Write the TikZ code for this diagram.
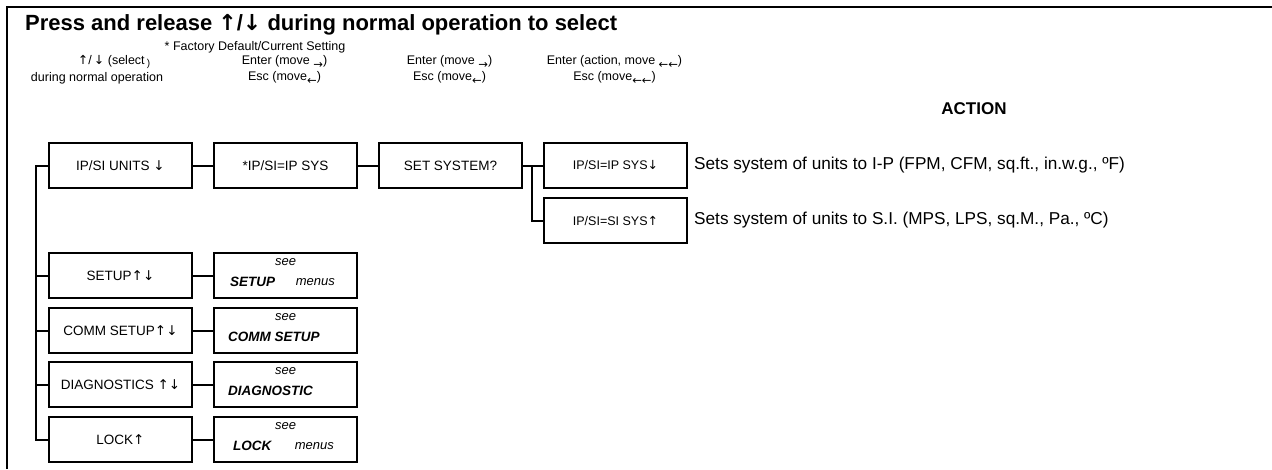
\documentclass[tikz,border=0pt]{standalone}
\usepackage{fontspec}
\setmainfont{Liberation Sans}
\newfontfamily\arw{DejaVu Sans}
\newcommand{\fsz}[1]{\fontsize{#1}{#1}\selectfont}
\newcommand{\aup}{{\arw ↑}}
\newcommand{\adn}{{\arw ↓}}
\newcommand{\lowarr}[1]{\raisebox{-0.5ex}{\fsz{11.5}\arw #1}}
\begin{document}
\begin{tikzpicture}[x=1pt,y=-1pt,
  box/.style={draw,line width=2pt,minimum width=143pt,minimum height=45pt,inner sep=0pt,font=\fsz{13.5},anchor=north west},
  sbox/.style={box,font=\fsz{12.5}},
  link/.style={line width=2pt},
  hdr/.style={font=\fsz{12.5},inner sep=0pt},
  desc/.style={font=\fsz{17.2},anchor=west,inner sep=0pt},
  seetxt/.style={font=\fsz{13}\itshape,inner sep=0pt},
  seebold/.style={font=\fsz{13.5}\bfseries\itshape,inner sep=0pt,anchor=west}]
\useasboundingbox (0,0) rectangle (1272,469);
\draw[line width=2pt] (7,469) -- (7,7) -- (1272,7);
% title and header
\node[anchor=west,inner sep=0pt,font=\fsz{22}\bfseries] (title) at (25,25) {Press and release \aup/\adn{} during normal operation to select};
\node[hdr] (fd) at (255,47) {* Factory Default/Current Setting};
\node[hdr] (h1a) at (114,62) {\aup/\,\adn{} (select\,\raisebox{-0.35ex}{\fsz{10})}};
\node[hdr] (h1b) at (97,78) {during normal operation};
\node[hdr] (h2a) at (284.5,62) {Enter (move \lowarr{→})};
\node[hdr] (h2b) at (284.5,78) {Esc (move\lowarr{←})};
\node[hdr] (h3a) at (449.5,62) {Enter (move \lowarr{→})};
\node[hdr] (h3b) at (449.5,78) {Esc (move\lowarr{←})};
\node[hdr] (h4a) at (614.5,62) {Enter (action, move \lowarr{←←})};
\node[hdr] (h4b) at (614.5,78) {Esc (move\lowarr{←←})};
\node[font=\fsz{17}\bfseries,inner sep=0pt] (act) at (974,109) {ACTION};
% boxes
\node[box] (units) at (48,142) {IP/SI UNITS \adn};
\node[box] (ipdef) at (213,142) {*IP/SI=IP SYS};
\node[box] (setsys) at (378,142) {SET SYSTEM?};
\node[sbox] (ipsys) at (543,142) {IP/SI=IP SYS\adn};
\node[sbox] (sisys) at (543,197) {IP/SI=SI SYS\aup};
\node[desc] (d1) at (694,165) {Sets system of units to I-P (FPM, CFM, sq.ft., in.w.g., ºF)};
\node[desc] (d2) at (694,220) {Sets system of units to S.I. (MPS, LPS, sq.M., Pa., ºC)};
\node[box] (setup) at (48,252) {SETUP\aup\adn};
\node[box] (comm) at (48,307) {COMM SETUP\aup\adn};
\node[box] (diag) at (48,361) {DIAGNOSTICS \aup\adn};
\node[box] (lock) at (48,416) {LOCK\aup};
\node[box] (s1) at (213,252) {};
\node[box] (s2) at (213,307) {};
\node[box] (s3) at (213,361) {};
\node[box] (s4) at (213,416) {};
\foreach \s in {s1,s2,s3,s4}{
  \node[seetxt] at ([yshift=-10.5pt]\s.north) {see};
}
\node[seebold] (t1) at ([xshift=17pt,yshift=-30pt]s1.north west) {SETUP};
\node[seetxt,anchor=east] (m1) at ([xshift=-23pt,yshift=-30pt]s1.north east) {menus};
\node[seebold] (t2) at ([xshift=15pt,yshift=-30pt]s2.north west) {COMM SETUP};
\node[seebold] (t3) at ([xshift=15pt,yshift=-30pt]s3.north west) {DIAGNOSTIC};
\node[seebold] (t4) at ([xshift=20pt,yshift=-30pt]s4.north west) {LOCK};
\node[seetxt,anchor=east] (m4) at ([xshift=-24pt,yshift=-30pt]s4.north east) {menus};
% connectors
\coordinate (tk) at (36,0);
\coordinate (br) at (532,0);
\draw[link] (units.west) -- (units.west -| tk) -- (lock.west -| tk) -- (lock.west);
\foreach \n in {setup,comm,diag}{
  \draw[link] (\n.west -| tk) -- (\n.west);
}
\draw[link] (units.east) -- (ipdef.west);
\draw[link] (ipdef.east) -- (setsys.west);
\draw[link] (setsys.east) -- (ipsys.west);
\draw[link] (setsys.east -| br) |- (sisys.west);
\draw[link] (setup.east) -- (s1.west);
\draw[link] (comm.east) -- (s2.west);
\draw[link] (diag.east) -- (s3.west);
\draw[link] (lock.east) -- (s4.west);
\end{tikzpicture}
\end{document}
